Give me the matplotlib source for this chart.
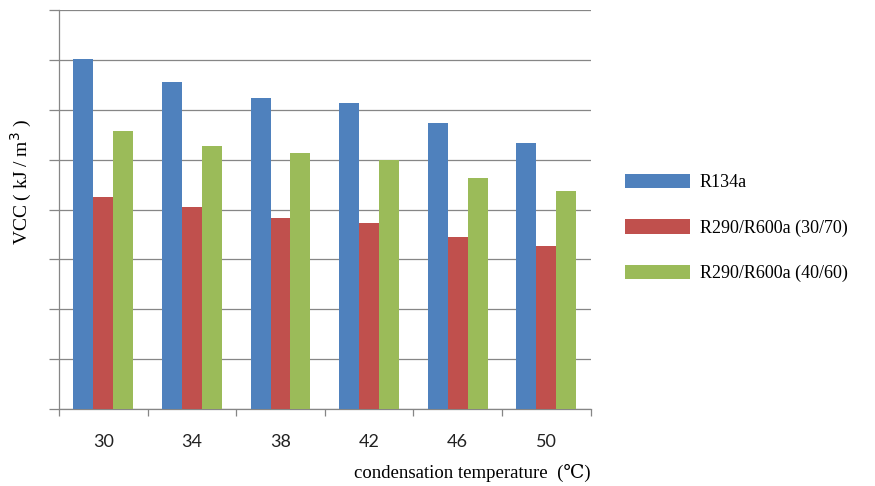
import matplotlib.pyplot as plt
import numpy as np

# data (VCC, kJ/m3); the y axis has no labels
temps = ["30", "34", "38", "42", "46", "50"]
r134a = [3510, 3280, 3120, 3070, 2870, 2670]
mix_30_70 = [2130, 2030, 1920, 1870, 1730, 1640]
mix_40_60 = [2790, 2640, 2570, 2500, 2320, 2190]

series = [
    ("R134a", r134a, "#4F81BD"),
    ("R290/R600a (30/70)", mix_30_70, "#C0504D"),
    ("R290/R600a (40/60)", mix_40_60, "#9BBB59"),
]

serif = ["Liberation Serif", "DejaVu Serif"]

fig = plt.figure(figsize=(8.75, 4.86), dpi=100)
ax = fig.add_axes([0.0674, 0.1584, 0.6076, 0.8206])

x = np.arange(len(temps))
w = 0.225
for i, (name, vals, col) in enumerate(series):
    ax.bar(x + (i - 1) * w, vals, width=w, color=col, label=name, zorder=3)

ax.set_xlim(-0.5, len(temps) - 0.5)
ax.set_ylim(0, 4000)
ax.set_yticks(np.arange(0, 4001, 500))
ax.set_yticklabels([])
ax.yaxis.grid(True, color="#868686", linewidth=0.9, zorder=0)
ax.tick_params(axis="y", length=7, color="#868686", width=0.9)

# boundary ticks (major) and centred labels (minor)
ax.set_xticks(np.arange(-0.5, len(temps), 1))
ax.set_xticklabels([])
ax.tick_params(axis="x", which="major", length=5, color="#868686", width=0.9)
ax.set_xticks(x, minor=True)
ax.set_xticklabels(temps, minor=True, fontsize=13, family=["Lato", "DejaVu Sans"],
                   color="#222222")
ax.tick_params(axis="x", which="minor", length=0, pad=18)

for s in ["top", "right"]:
    ax.spines[s].set_visible(False)
for s in ["left", "bottom"]:
    ax.spines[s].set_color("#868686")
    ax.spines[s].set_linewidth(0.9)

ax.set_xlabel("condensation temperature  (\u2103)", loc="right", fontsize=13.5,
              family=serif + ["Noto Sans CJK SC"], labelpad=10)
fig.text(0.025, 0.625, "VCC ( kJ / m$^3$ )", rotation=90, ha="center", va="center",
         fontsize=14, family=serif)

ax.legend(loc="upper left", bbox_to_anchor=(0.714, 0.642), bbox_transform=fig.transFigure,
          frameon=False, borderpad=0, borderaxespad=0, handlelength=3.6,
          handleheight=0.85, handletextpad=0.55, labelspacing=1.55,
          prop={"family": serif, "size": 13})

fig.savefig("out.png", dpi=100)
